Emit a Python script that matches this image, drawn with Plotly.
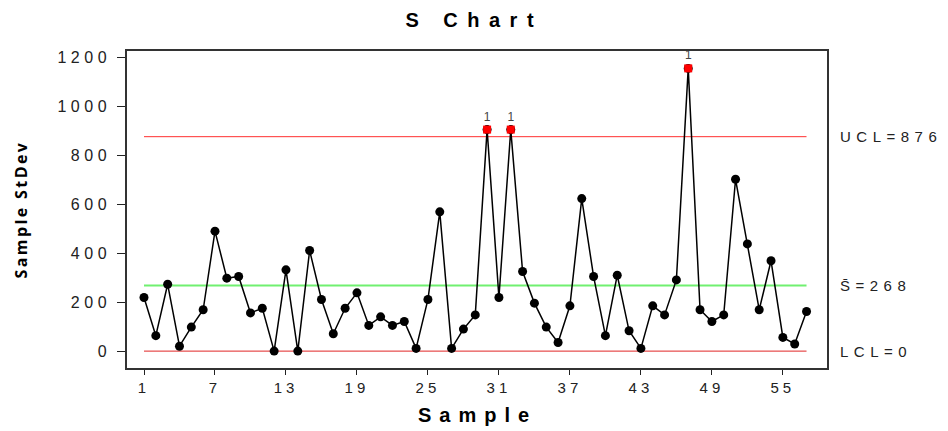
import plotly.graph_objects as go

# ---- data ----
samples = list(range(1, 58))
stdev = [219, 63, 273, 20, 98, 169, 490, 298, 305, 156, 175, 0, 332, 0, 411, 211, 71, 175, 238, 105,
         140, 105, 121, 11, 211, 569, 11, 90, 148, 905, 219, 905, 325, 196, 98, 35, 185, 623, 305, 63,
         310, 83, 11, 185, 148, 291, 1155, 169, 121, 148, 702, 438, 169, 369, 56, 29, 162]
ucl = 876
center = 268
lcl = 0
x_ticks = [1, 7, 13, 19, 25, 31, 37, 43, 49, 55]
y_ticks = [0, 200, 400, 600, 800, 1000, 1200]

FONT = "Liberation Sans, Arial, sans-serif"
TFONT = "Open Sans, Liberation Sans, Arial, sans-serif"


def sp(s, px):
    return f"<span style='letter-spacing:{px}px'>{s}</span>"


flag_x = [x for x, v in zip(samples, stdev) if v > ucl]
flag_y = [v for v in stdev if v > ucl]

fig = go.Figure()

# control lines
fig.add_trace(go.Scatter(x=[samples[0], samples[-1]], y=[lcl, lcl], mode="lines",
                         line=dict(color="#e02424", width=1), hoverinfo="skip"))
fig.add_trace(go.Scatter(x=[samples[0], samples[-1]], y=[ucl, ucl], mode="lines",
                         line=dict(color="#ff3030", width=1), hoverinfo="skip"))
fig.add_trace(go.Scatter(x=[samples[0], samples[-1]], y=[center, center], mode="lines",
                         line=dict(color="#70f070", width=2), hoverinfo="skip"))

# data series
fig.add_trace(go.Scatter(x=samples, y=stdev, mode="lines+markers",
                         line=dict(color="black", width=1.5),
                         marker=dict(symbol="circle", size=9, color="black")))

# out-of-control points
fig.add_trace(go.Scatter(x=flag_x, y=flag_y, mode="markers+text",
                         marker=dict(symbol="square", size=8, color="#ff0000"),
                         text=["1"] * len(flag_x), textposition="top center",
                         textfont=dict(family=FONT, size=12, color="#444")))

# right-side labels
labels = [(ucl, "UCL=876"), (center, "S\u0304=268"), (lcl, "LCL=0")]
for yv, t in labels:
    fig.add_annotation(x=1, xref="paper", y=yv, yref="y", xanchor="left", yanchor="middle",
                       xshift=11, text=sp(t, 5.5), showarrow=False,
                       font=dict(family=FONT, size=15, color="#222"))

# axis titles
fig.add_annotation(x=0.5, xref="paper", y=0, yref="paper", xanchor="center", yanchor="middle",
                   xshift=0, yshift=-47, showarrow=False,
                   text="<b>" + sp("Sample", 8) + "</b>",
                   font=dict(family=FONT, size=20, color="black"))
fig.add_annotation(x=0, xref="paper", y=0.5, yref="paper", xanchor="center", yanchor="middle",
                   xshift=-107, textangle=-90, showarrow=False,
                   text="<b>" + sp("Sample StDev", 2.4) + "</b>",
                   font=dict(family=TFONT, size=16, color="black"))

fig.update_layout(
    width=940, height=423,
    margin=dict(l=119, r=121, t=43, b=63),
    paper_bgcolor="white", plot_bgcolor="white",
    showlegend=False,
    title=dict(text="<b>" + sp("S Chart", 9.5) + "</b>", x=0.496, xanchor="center",
               y=0.972, yref="container", yanchor="middle",
               font=dict(family=FONT, size=20, color="black")),
    font=dict(family=FONT, color="#222"),
)

fig.update_xaxes(range=[-0.437, 58.73], showgrid=False, zeroline=False,
                 tickmode="array", tickvals=x_ticks, ticktext=[sp(str(t), 4) for t in x_ticks],
                 ticks="outside", ticklen=5, tickcolor="#222",
                 showline=True, mirror=True, linecolor="#333", linewidth=1.5,
                 tickfont=dict(family=FONT, size=15, color="#222"))
fig.update_yaxes(range=[-69, 1226], showgrid=False, zeroline=False,
                 tickmode="array", tickvals=y_ticks, ticktext=[sp(str(t), 4.5) for t in y_ticks],
                 ticks="outside", ticklen=8, tickcolor="#222", ticklabelstandoff=3,
                 showline=True, mirror=True, linecolor="#333", linewidth=1.5,
                 tickfont=dict(family=FONT, size=16, color="#222"))

fig.write_html("out.html")
